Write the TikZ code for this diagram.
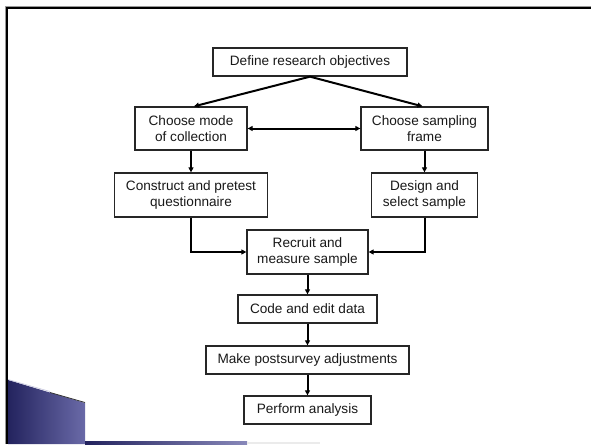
\documentclass[tikz,border=0pt]{standalone}
\usepackage{fontspec}
\setmainfont{Liberation Sans}
\usetikzlibrary{arrows.meta,calc}
\definecolor{navyL}{HTML}{23235E}
\definecolor{navyR}{HTML}{6A6AA8}
\tikzset{
  boxnode/.style={draw=black!85, line width=1.3pt, fill=white, align=center,
    inner sep=0pt, font=\fontsize{13.6}{15.5}\selectfont, text=black!90},
  arr/.style={draw=black, line width=2pt, -{Triangle[length=5pt,width=5pt]}},
  darr/.style={draw=black, line width=2pt, {Triangle[length=5pt,width=5pt]}-{Triangle[length=5pt,width=5pt]}},
}
\begin{document}
\begin{tikzpicture}[x=1pt,y=-1pt]
\useasboundingbox (0,0) rectangle (591,444);
\fill[white] (0,0) rectangle (591,444);
% slide decoration
\shade[left color=navyL, right color=navyR] (8,380) -- (85,403) -- (85,444) -- (8,444) -- cycle;
\draw[black!80, line width=0.8pt] (50,392.5) -- (85,402.5);
\draw[navyR!40, line width=0.6pt] (8,379.5) -- (50,391.5);
\shade[left color=navyL, right color=navyR!80] (85,441.5) rectangle (247,444);
\fill[black!8] (247,441.5) rectangle (320,444);
\draw[black, line width=2.4pt] (7,444) -- (7,8) -- (591,8);
\draw[black!40, line width=0.6pt] (5.5,444) -- (5.5,6.5) -- (591,6.5);

% nodes
\node[boxnode, minimum width=194pt, minimum height=28pt] (def) at (310,62) {Define research objectives};
\node[boxnode, minimum width=112pt, minimum height=43pt] (mode) at (191,128.5) {Choose mode\\of collection};
\node[boxnode, minimum width=127pt, minimum height=43pt] (frame) at (424.5,128.5) {Choose sampling\\frame};
\node[boxnode, minimum width=153pt, minimum height=44pt] (cons) at (191,195) {Construct and pretest\\questionnaire};
\node[boxnode, minimum width=106pt, minimum height=44pt] (des) at (424.5,195) {Design and\\select sample};
\node[boxnode, minimum width=121pt, minimum height=44pt] (rec) at (307.5,252) {Recruit and\\measure sample};
\node[boxnode, minimum width=139pt, minimum height=28pt] (code) at (307.5,309) {Code and edit data};
\node[boxnode, minimum width=203pt, minimum height=28pt] (make) at (307.5,360) {Make postsurvey adjustments};
\node[boxnode, minimum width=127pt, minimum height=28pt] (perf) at (307.5,410) {Perform analysis};

% connectors
\draw[arr] (def.south) -- ($(mode.north)+(3,0)$);
\draw[arr] (def.south) -- ($(frame.north)+(-2,0)$);
\draw[darr] (mode.east) -- (frame.west);
\draw[arr] (mode.south) -- (cons.north);
\draw[arr] (frame.south) -- (des.north);
\draw[arr] (cons.south) |- (rec.west);
\draw[arr] (des.south) |- (rec.east);
\draw[arr] (rec.south) -- (code.north);
\draw[arr] (code.south) -- (make.north);
\draw[arr] (make.south) -- (perf.north);
\end{tikzpicture}
\end{document}
